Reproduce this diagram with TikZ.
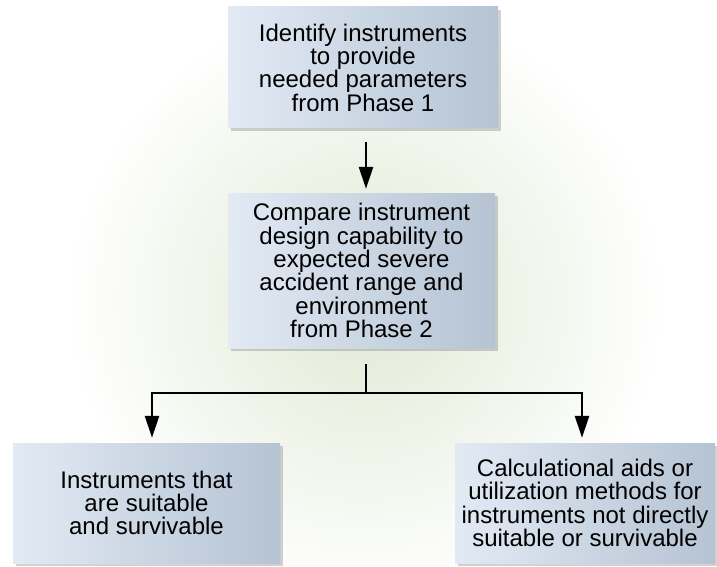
\documentclass[tikz,border=0pt]{standalone}
\usepackage{fontspec}
\setmainfont{Liberation Sans}
\usetikzlibrary{arrows.meta,shadows,calc}
\definecolor{glow}{RGB}{224,233,212}
\definecolor{boxL}{RGB}{226,234,244}
\definecolor{boxR}{RGB}{181,195,211}
\tikzset{
  stepbox/.style={left color=boxL, right color=boxR, draw=none,
    align=center, inner sep=0pt, font=\fontsize{24}{23.3}\selectfont,
    drop shadow={shadow xshift=3pt, shadow yshift=-3pt, opacity=0.25, fill=black!70}},
  conn/.style={line width=2.6pt, black},
  arr/.style={conn, -{Triangle[length=22pt,width=14pt]}}
}
\begin{document}
\begin{tikzpicture}[x=1pt,y=-1pt]
\useasboundingbox (0,0) rectangle (717,567);
\begin{scope}
\clip (0,0) rectangle (717,567);
\fill[white] (0,0) rectangle (717,567);
\shade[inner color=glow, outer color=white] (366,300) circle (300);
\end{scope}
\node[stepbox, minimum width=270pt, minimum height=121pt] (top) at (363,67.5)
  {Identify instruments\\to provide\\needed parameters\\from Phase 1};
\node[stepbox, minimum width=267pt, minimum height=155pt] (mid) at (361.5,270.5)
  {Compare instrument\\design capability to\\expected severe\\accident range and\\environment\\from Phase 2};
\node[stepbox, minimum width=267pt, minimum height=120pt] (left) at (146.5,503)
  {Instruments that\\are suitable\\and survivable};
\node[stepbox, minimum width=260pt, minimum height=120pt] (right) at (585,503)
  {Calculational aids or\\utilization methods for\\instruments not directly\\suitable or survivable};
\coordinate (a1) at (366,142);
\coordinate (j) at (366,393);
\coordinate (lj) at (152,393);
\coordinate (rj) at (582,393);
\draw[arr, shorten >=4pt] (a1) -- (a1 |- mid.north);
\draw[conn, shorten <=16pt] (j |- mid.south) -- (j);
\draw[conn, line cap=rect] (lj) -- (rj);
\draw[arr, shorten >=5pt] (lj) -- (lj |- left.north);
\draw[arr, shorten >=5pt] (rj) -- (rj |- right.north);
\end{tikzpicture}
\end{document}
